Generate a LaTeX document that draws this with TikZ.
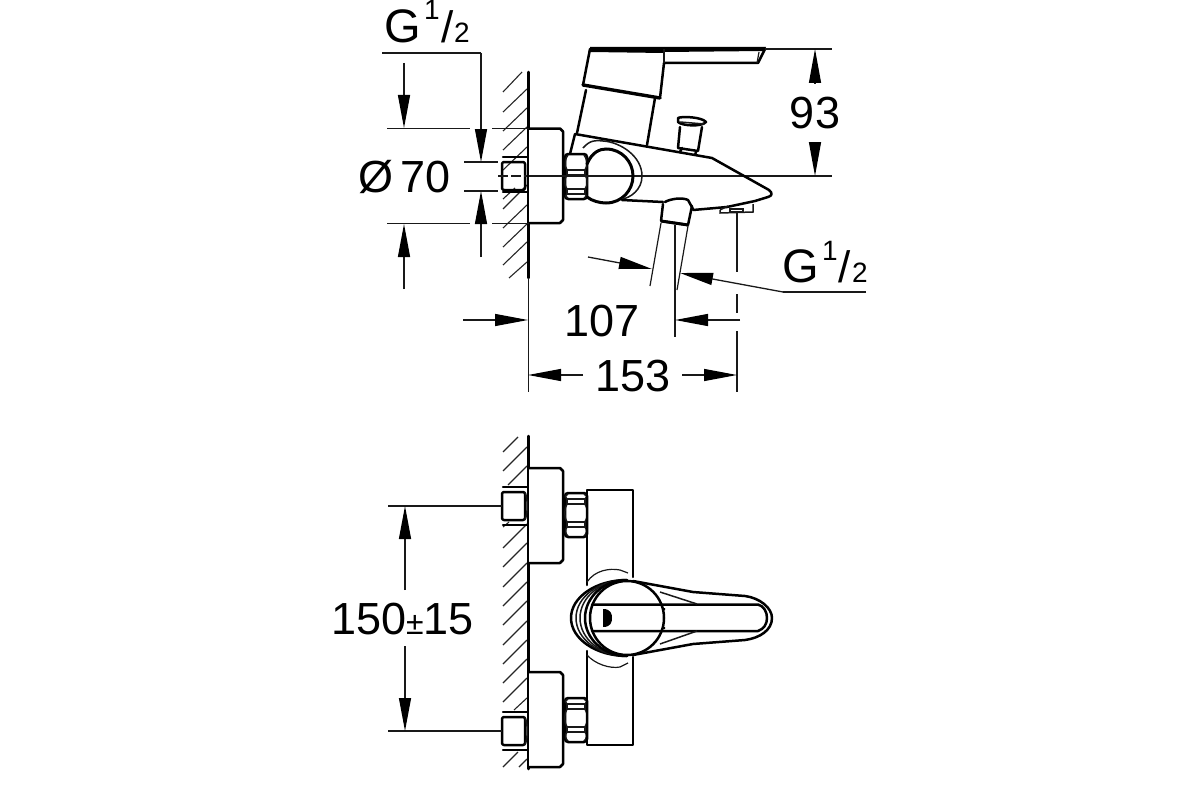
\documentclass[tikz,border=0pt]{standalone}
\usepackage{fontspec}
\setmainfont{Liberation Sans}
\usetikzlibrary{arrows.meta}
\tikzset{
 thin line/.style={line width=1.2pt,black!90},
 thick line/.style={line width=2.5pt,line join=round,line cap=round,black},
 mid line/.style={line width=1.5pt,black!90},
 hatch/.style={line width=1.1pt,black!85},
 dim/.style={line width=1.3pt,black!90},
 dimarrow/.style={dim,-{Triangle[length=33pt,width=12pt,black]}},
 label/.style={inner sep=0pt,font=\fontsize{45}{45}\selectfont,text=black},
 smalllabel/.style={inner sep=0pt,font=\fontsize{28}{28}\selectfont,text=black},
 pics/nipple/.style={code={
  \draw[thick line,rounded corners=2pt] (0,0) rectangle (23,28);
  \draw[thick line] (1,-5) -- (25,-5) (1,33) -- (25,33);
  \draw[mid line] (23,0) .. controls (26,8) and (26,20) .. (23,28);
 }},
}
\newcommand{\flange}[2]{%
  \draw[thick line,fill=white] (529,#1) -- (560,#1) -- (563,{#1+3}) -- (563,{#2-3}) -- (560,#2) -- (529,#2);}
% top, band 1 top, band 2 top, bottom
\newcommand{\hexnut}[4]{%
  \draw[thick line,rounded corners=3pt] (565,#1) -- (587,#1) -- (587,#4) -- (565,#4) -- cycle;
  \draw[mid line] (567,#2) rectangle (585,{#2+5});
  \draw[mid line] (567,#3) rectangle (585,{#3+5});
  \draw[mid line] (567,#2) .. controls (564,{#2-4}) and (565,{#1+4}) .. (568,{#1+1});
  \draw[mid line] (585,#2) .. controls (588,{#2-4}) and (587,{#1+4}) .. (584,{#1+1});
  \draw[mid line] (567,{#2+5}) .. controls (564,{#2+9}) and (564,{#3-4}) .. (567,#3);
  \draw[mid line] (585,{#2+5}) .. controls (588,{#2+9}) and (588,{#3-4}) .. (585,#3);
  \draw[mid line] (567,{#3+5}) .. controls (565,{#3+7}) and (565,{#4-3}) .. (568,{#4-1});
  \draw[mid line] (585,{#3+5}) .. controls (587,{#3+7}) and (587,{#4-3}) .. (584,{#4-1});}
\begin{document}
\begin{tikzpicture}[x=1pt,y=-1pt]
\useasboundingbox (0,0) rectangle (1200,800);
% ---- hatching top
\foreach \y in {112,131,150,170,228,247,265}
  \draw[hatch] (503,\y) -- (527,{\y-23});
\draw[hatch] (503,92) -- (522,72);
\draw[hatch] (509,278) -- (527,262);
\draw[hatch] (503,199) -- (515,188);
\draw[hatch] (503,209) -- (527,185);
% wall
\draw[thick line] (528.5,72) -- (528.5,278);
\draw[thin line] (528.5,278) -- (528.5,392);
% flange, nipple, nut
\flange{128.5}{223}
\draw[thick line,rounded corners=2pt] (502,162) rectangle (525,190);
\draw[thick line] (503,157) -- (527,157) (503,192) -- (527,192);
\draw[thin line,dash pattern=on 10pt off 3pt] (498,176) -- (527,176);
\hexnut{154}{170}{189}{199}
% body side
\draw[thin line] (529,176) -- (832,176);
% ball
\draw[line width=3pt,line cap=round,black] (587,164) .. controls (592,152) and (600,149) .. (606,149) .. controls (622,149) and (633,162) .. (633,176) .. controls (633,190) and (622,203) .. (606,203) .. controls (600,203) and (592,201) .. (587,197);
\draw[mid line] (583,148) .. controls (590,140) and (596,140) .. (603,141) .. controls (620,142) and (642,156) .. (642,176) .. controls (642,190) and (630,198) .. (622,199);
% spout
\draw[thick line] (570,154) -- (575,134) -- (712,158) -- (769,190) .. controls (773,193) and (772,196) .. (768,197) -- (755,201) -- (727,207) -- (693,210);
\draw[thick line] (622,200) -- (663,202);
% handle
\draw[thick line] (583,85) -- (590,49) -- (765,49) -- (758,63) -- (664,63) -- (660,98);
\fill[black] (590,47) -- (664,47) -- (664,53) -- (590,52) -- cycle;
\fill[black] (664,47) -- (766,47) -- (764,51) -- (664,52) -- cycle;
\draw[mid line] (664,49) -- (664,63);
\draw[thin line] (759,52) -- (757,63);
\draw[line width=3.4pt,black,line cap=round] (583,85) -- (660,98);
\draw[thick line] (586,90) -- (577,133);
\draw[thick line] (655,98) -- (647,145);
% knob
\draw[thick line,fill=white] (678,118) .. controls (682,116) and (702,117) .. (706,122) .. controls (702,127) and (682,126) .. (678,122) -- cycle;
\draw[mid line] (680,122) -- (704,124);
\draw[thick line] (680,127) -- (678,148) -- (698,151) -- (702,127);
\draw[thick line] (682,148) -- (680,152);
\draw[thick line] (696,152) -- (695,155);
% outlet
\draw[thick line] (665,202) .. controls (670,199) and (682,197) .. (688,200) -- (693,209);
\draw[thick line] (663,204) -- (661,221) -- (688,225) -- (692,206);
\draw[line width=3pt,black] (661,221) -- (688,225);
\draw[thin line] (661,223) -- (650,286);
\draw[thin line] (688,226) -- (677,290);
\draw[thin line] (675,225) -- (675,337);
% aerator
\draw[mid line] (720,210) -- (728,206) (720,210) -- (720,213) -- (753,212) -- (753,204);
\draw[mid line] (730,209) rectangle (743,212);
\draw[thin line] (737,212) -- (737,272) (737,294) -- (737,313) (737,331) -- (737,392);
% ---- dims top left
\draw[dim] (382,53) -- (481,53);
\draw[dimarrow] (481,53) -- (481,162);
\draw[dimarrow] (481,257) -- (481,191);
\draw[dim] (464,162) -- (498,162) (464,191) -- (498,191);
\draw[dim] (387,128.5) -- (470,128.5) (492,128.5) -- (529,128.5);
\draw[dim] (387,223.5) -- (470,223.5) (492,223.5) -- (529,223.5);
\draw[dimarrow] (404,63) -- (404,128);
\draw[dimarrow] (404,289) -- (404,224);
\node[label,anchor=center] (dia) at (376,177) {Ø};
\node[label,anchor=center] (seventy) at (426,177) {70};
\node[label,anchor=base west,font=\fontsize{47}{47}\selectfont] (g1) at (384,43) {G};
\node[smalllabel,anchor=base] (g1a) at (432,20) {1};
\node[label,anchor=base,font=\fontsize{44}{44}\selectfont] (g1b) at (447.5,43) {/};
\node[smalllabel,anchor=base west] (g1c) at (454,43) {2};
% 93
\draw[dim] (765,49) -- (832,49);
\draw[-{Triangle[length=34pt,width=12pt,black]},dim] (815,83) -- (815,49);
\draw[-{Triangle[length=34pt,width=12pt,black]},dim] (815,142) -- (815,176);
\node[label] (n93) at (815,113) {93};
% hose arrows
\draw[dimarrow] (588,257) -- (652,269);
\draw[dim] (866,292) -- (783,292);
\draw[dimarrow] (783,292) -- (680,273);
\node[label,anchor=base west,font=\fontsize{47}{47}\selectfont] (g2) at (782,282) {G};
\node[smalllabel,anchor=base] (g2a) at (830,260) {1};
\node[label,anchor=base,font=\fontsize{44}{44}\selectfont] (g2b) at (845,282) {/};
\node[smalllabel,anchor=base west] (g2c) at (852,282) {2};
% 107
\draw[dimarrow] (463,320) -- (528,320);
\draw[dimarrow] (740,320) -- (675,320);
\node[label] (n107) at (602,321) {107};
% 153
\draw[dimarrow] (583,375) -- (528,375);
\draw[dimarrow] (682,375) -- (737,375);
\node[label] (n153) at (633,376) {153};
% ---- bottom view hatching
\foreach \y in {471,548,567,587,606,625,645,664,683,702}
  \draw[hatch] (503,\y) -- (527,{\y-24});
\draw[hatch] (503,452) -- (518,437);
\draw[hatch] (508,485) -- (527,466);
\draw[hatch] (503,527) -- (509,522);
\draw[hatch] (514,710) -- (527,698);
\draw[hatch] (503,767) -- (518,752);
\draw[hatch] (519,767) -- (527,759);
\draw[thick line] (528.5,436) -- (528.5,769);
\flange{468}{563}
\flange{672}{767}
\pic at (502,492) {nipple};
\pic at (502,717) {nipple};
\hexnut{493}{499}{522}{537}
\hexnut{698}{704}{727}{742}
% body front
\draw[thick line] (587,585) -- (587,490) -- (633,490) -- (633,577);
\draw[thick line] (587,651) -- (587,745) -- (633,745) -- (633,657);
\draw[thin line] (587,582) .. controls (595,570) and (610,568) .. (620,570) -- (628,573);
\draw[thin line] (587,655) .. controls (595,664) and (610,669) .. (620,667) -- (628,663);
% knob front
\draw[thick line] (627,580) arc[start angle=270,end angle=90,x radius=56,y radius=38];
\draw[mid line] (627,580) arc[start angle=270,end angle=90,x radius=51,y radius=38];
\draw[mid line] (627,580) arc[start angle=270,end angle=90,x radius=47,y radius=38];
\draw[thick line] (627,580) arc[start angle=270,end angle=90,x radius=42,y radius=38];
\draw[thick line] (627,618) circle[radius=37];
\draw[thick line] (633,581) -- (693,592) -- (745,596) .. controls (760,598) and (772,608) .. (772,618) .. controls (772,630) and (760,638) .. (745,640) -- (693,644) -- (633,655);
\draw[thick line] (592,604.5) -- (758,604.5) .. controls (764,606) and (767,612) .. (767,618) .. controls (767,624) and (764,629) .. (758,631) -- (592,631);
\draw[mid line] (660,592) -- (697,604) (660,644) -- (697,631);
\fill[black] (603,609) .. controls (611,609) and (612,614) .. (612,618) .. controls (612,622) and (611,627) .. (603,627) -- cycle;
\fill[black] (663,608) rectangle (665,610) (663,627) rectangle (665,629);
% ---- 150
\draw[dim] (388,506) -- (502,506) (388,731) -- (502,731);
\draw[dimarrow] (405,590) -- (405,506);
\draw[dimarrow] (405,646) -- (405,731);
\node[label] (n150) at (402.5,619) {150{\fontsize{32}{32}\selectfont ±}15};
\end{tikzpicture}
\end{document}
